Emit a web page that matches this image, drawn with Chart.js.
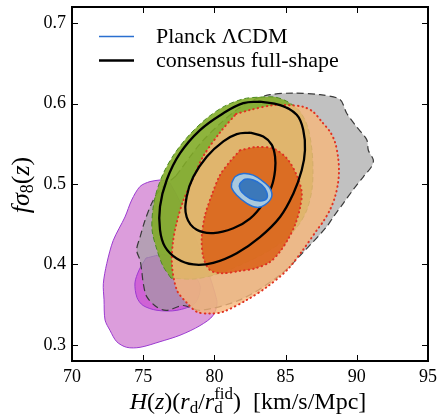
<!DOCTYPE html>
<html>
<head>
<meta charset="utf-8">
<script src="https://cdn.jsdelivr.net/npm/chart.js@4.4.0/dist/chart.umd.min.js"></script>
<style>
  html, body { margin: 0; padding: 0; background: #fff; }
</style>
</head>
<body>
<canvas id="contours" width="437" height="417"></canvas>
<script>
const xTicks = [70, 75, 80, 85, 90, 95];
const yTicks = [0.3, 0.4, 0.5, 0.6, 0.7];

// contour outlines, [H, f sigma8]
const purpleOuter = [[76.18,0.505],[75.48,0.503],[74.78,0.497],[74.19,0.480],[73.72,0.459],[72.90,0.430],[72.44,0.401],[72.20,0.376],[72.25,0.356],[72.32,0.331],[72.67,0.318],[73.14,0.304],[73.84,0.297],[74.78,0.297],[76.18,0.304],[77.58,0.312],[78.99,0.324],[79.92,0.337],[80.16,0.356],[78.52,0.439],[76.88,0.501]];
const purpleInner = [[75.20,0.408],[74.71,0.393],[74.42,0.377],[74.56,0.359],[74.99,0.349],[75.97,0.343],[77.37,0.343],[78.64,0.352],[78.99,0.374],[77.94,0.399],[76.53,0.412]];
const grayOuter = [[77.30,0.510],[79.00,0.550],[80.40,0.575],[81.70,0.594],[82.80,0.605],[83.90,0.611],[85.52,0.613],[87.42,0.611],[88.82,0.605],[89.29,0.588],[89.99,0.571],[90.70,0.555],[90.81,0.542],[91.16,0.530],[91.05,0.522],[90.46,0.509],[89.75,0.493],[89.05,0.476],[88.35,0.459],[87.89,0.447],[86.71,0.424],[84.61,0.387],[81.80,0.356],[78.99,0.343],[77.82,0.349],[76.65,0.343],[75.95,0.347],[75.25,0.360],[75.01,0.376],[74.89,0.393],[74.78,0.405],[74.54,0.418],[74.78,0.434],[75.13,0.455],[75.60,0.476],[76.18,0.493]];
const greenOuter = [[76.95,0.383],[76.39,0.398],[75.97,0.418],[75.62,0.443],[75.69,0.470],[75.97,0.4925],[76.46,0.515],[77.23,0.5386],[78.29,0.562],[79.48,0.582],[80.74,0.597],[82.08,0.606],[83.20,0.608],[84.26,0.608],[85.17,0.602],[86.01,0.590],[86.57,0.570],[86.85,0.542],[86.92,0.517],[86.85,0.493],[86.50,0.468],[85.87,0.448],[84.89,0.430],[83.62,0.415],[82.15,0.402],[80.39,0.389],[78.64,0.382]];
const orangeOuter = [[81.52,0.587],[82.50,0.592],[84.12,0.598],[85.31,0.598],[86.22,0.596],[86.92,0.590],[87.56,0.577],[88.12,0.565],[88.47,0.552],[88.68,0.534],[88.75,0.517],[88.68,0.501],[88.47,0.484],[88.12,0.468],[87.63,0.453],[87.21,0.443],[86.22,0.418],[85.10,0.393],[83.69,0.372],[82.29,0.356],[80.60,0.341],[79.69,0.339],[78.78,0.341],[78.08,0.352],[77.37,0.368],[77.02,0.399],[77.09,0.428],[77.37,0.453],[77.79,0.478],[78.50,0.507],[79.20,0.534],[80.39,0.564]];
const orangeInner = [[81.80,0.542],[82.97,0.546],[84.14,0.544],[85.08,0.532],[85.78,0.511],[86.13,0.490],[86.01,0.470],[85.66,0.449],[85.19,0.432],[84.61,0.416],[83.90,0.403],[82.85,0.395],[81.80,0.392],[80.53,0.389],[79.69,0.393],[79.22,0.409],[79.11,0.434],[79.34,0.461],[79.81,0.486],[80.39,0.511],[81.10,0.528]];
const planckOuter = [[81.21,0.501],[81.45,0.509],[82.03,0.513],[82.73,0.511],[83.43,0.503],[83.90,0.495],[84.02,0.484],[83.55,0.474],[82.97,0.471],[82.27,0.476],[81.57,0.486],[81.21,0.495]];
const planckInner = [[81.80,0.501],[82.15,0.506],[82.73,0.505],[83.32,0.499],[83.67,0.490],[83.67,0.482],[83.20,0.479],[82.50,0.482],[81.92,0.490],[81.75,0.497]];
const consensus95 = [[83.20,0.6025],[84.61,0.598],[85.78,0.586],[86.24,0.567],[86.36,0.542],[86.13,0.517],[85.54,0.488],[84.61,0.459],[83.20,0.434],[81.57,0.414],[79.92,0.402],[78.52,0.400],[77.35,0.4075],[76.53,0.422],[76.18,0.443],[76.18,0.472],[76.65,0.505],[77.58,0.538],[78.99,0.567],[80.63,0.588],[82.03,0.6005]];
const consensus68 = [[82.50,0.5639],[83.43,0.559],[84.02,0.549],[84.26,0.534],[84.26,0.517],[84.02,0.497],[83.43,0.476],[82.50,0.457],[81.33,0.445],[79.92,0.439],[78.76,0.443],[78.05,0.459],[78.05,0.484],[78.52,0.509],[79.46,0.534],[80.63,0.553],[81.57,0.562]];

const legendLabels = ['Planck \u039BCDM', 'consensus full-shape'];

function contour(points, opts) {
    const data = points.concat([points[0]]).map(p => ({x: p[0], y: p[1]}));
    return Object.assign({
        data: data,
        showLine: true,
        fill: 'shape',
        pointRadius: 0,
        tension: 0.3,
        borderWidth: 1
    }, opts);
}

const redDots = {borderColor: '#e03222', borderWidth: 2, borderDash: [0.5, 4], borderCapStyle: 'round'};

const serif = '"Liberation Serif", "Times New Roman", serif';

function richText(ctx, parts, size) {
    let total = 0;
    parts.forEach((p, i) => {
        ctx.font = (p.it ? 'italic ' : '') + Math.round(size * (p.s || 1)) + 'px ' + serif;
        p.w = ctx.measureText(p.t).width;
        p.adv = p.stack ? Math.max(0, p.w - parts[i - 1].w) : p.w;
        total += p.adv;
    });
    let x = -total / 2;
    let lastStart = x;
    parts.forEach(p => {
        ctx.font = (p.it ? 'italic ' : '') + Math.round(size * (p.s || 1)) + 'px ' + serif;
        const start = p.stack ? lastStart : x;
        ctx.fillText(p.t, start, p.dy || 0);
        if (!p.stack) lastStart = x;
        x += p.adv;
    });
}

const decorPlugin = {
    id: 'decor',
    afterDraw(chart) {
        const {ctx, chartArea: a, scales: {x, y}} = chart;
        ctx.save();
        // inward ticks on all four sides
        ctx.strokeStyle = '#000';
        ctx.lineWidth = 1;
        ctx.beginPath();
        xTicks.forEach(v => {
            const px = Math.round(x.getPixelForValue(v)) + 0.5;
            ctx.moveTo(px, a.bottom); ctx.lineTo(px, a.bottom - 6);
            ctx.moveTo(px, a.top); ctx.lineTo(px, a.top + 6);
        });
        yTicks.forEach(v => {
            const py = Math.round(y.getPixelForValue(v)) + 0.5;
            ctx.moveTo(a.left, py); ctx.lineTo(a.left + 6, py);
            ctx.moveTo(a.right, py); ctx.lineTo(a.right - 6, py);
        });
        ctx.stroke();
        ctx.lineWidth = 2;
        ctx.strokeRect(a.left, a.top, a.right - a.left, a.bottom - a.top);

        // tick labels
        ctx.fillStyle = '#000';
        ctx.font = '18px ' + serif;
        ctx.textAlign = 'center';
        ctx.textBaseline = 'top';
        xTicks.forEach(v => ctx.fillText(String(v), x.getPixelForValue(v), a.bottom + 7));
        ctx.textAlign = 'right';
        ctx.textBaseline = 'middle';
        yTicks.forEach(v => ctx.fillText(v.toFixed(1), a.left - 6, y.getPixelForValue(v)));

        // legend
        ctx.lineWidth = 1.5;
        ctx.strokeStyle = '#2a6fd0';
        ctx.beginPath(); ctx.moveTo(99, 36.5); ctx.lineTo(134, 36.5); ctx.stroke();
        ctx.lineWidth = 2.5;
        ctx.strokeStyle = '#000';
        ctx.beginPath(); ctx.moveTo(99, 60.5); ctx.lineTo(134, 60.5); ctx.stroke();
        ctx.font = '22px ' + serif;
        ctx.textAlign = 'left';
        ctx.fillText(legendLabels[0], 156, 37);
        ctx.fillText(legendLabels[1], 156, 61);

        // axis titles
        ctx.textBaseline = 'alphabetic';
        ctx.save();
        ctx.translate(248, 409);
        richText(ctx, [
            {t: 'H', it: true}, {t: '('}, {t: 'z', it: true}, {t: ')('},
            {t: 'r', it: true}, {t: 'd', s: 0.7, dy: 4}, {t: '/'},
            {t: 'r', it: true}, {t: 'fid', s: 0.7, dy: -10}, {t: 'd', s: 0.7, dy: 4, stack: true},
            {t: ')'}, {t: '  [km/s/Mpc]'}
        ], 24);
        ctx.restore();
        ctx.save();
        ctx.translate(29, 185);
        ctx.rotate(-Math.PI / 2);
        richText(ctx, [
            {t: 'f', it: true}, {t: '\u03C3', it: true}, {t: '8', s: 0.7, dy: 4},
            {t: '('}, {t: 'z', it: true}, {t: ')'}
        ], 26);
        ctx.restore();
        ctx.restore();
    }
};

new Chart(document.getElementById('contours'), {
    type: 'scatter',
    data: {
        datasets: [
            contour(planckInner, {backgroundColor: '#3b78ba', borderColor: '#2470d6', borderWidth: 1.5, order: 0}),
            contour(planckOuter, {backgroundColor: '#a9c9de', borderColor: '#2470d6', borderWidth: 1.5, order: 1}),
            contour(consensus68, {fill: false, borderColor: '#000', borderWidth: 2.3, tension: 0.4, order: 2}),
            contour(consensus95, {fill: false, borderColor: '#000', borderWidth: 2.3, tension: 0.4, order: 3}),
            contour(orangeInner, Object.assign({backgroundColor: 'rgba(218,96,22,0.85)', order: 4}, redDots)),
            contour(orangeOuter, Object.assign({backgroundColor: 'rgba(246,182,122,0.8)', order: 5}, redDots)),
            contour(greenOuter, {backgroundColor: 'rgba(130,172,40,0.9)', borderColor: '#4c8a22', borderDash: [5, 3], order: 6}),
            contour(grayOuter, {backgroundColor: 'rgba(160,160,160,0.65)', borderColor: '#3a3a3a', borderWidth: 1.2, borderDash: [7, 4], order: 7}),
            contour(purpleInner, {backgroundColor: 'rgba(200,60,210,0.6)', borderColor: '#9a3ad0', order: 8}),
            contour(purpleOuter, {backgroundColor: 'rgba(205,115,205,0.7)', borderColor: '#9a3ad0', order: 9})
        ]
    },
    options: {
        responsive: false,
        animation: false,
        events: [],
        layout: {
            padding: {top: 7, right: 9, left: 72, bottom: 56}
        },
        scales: {
            x: {type: 'linear', min: 70, max: 95, display: false},
            y: {type: 'linear', min: 0.28, max: 0.72, display: false}
        },
        plugins: {
            legend: {display: false},
            tooltip: {enabled: false}
        }
    },
    plugins: [decorPlugin]
});
</script>
</body>
</html>
